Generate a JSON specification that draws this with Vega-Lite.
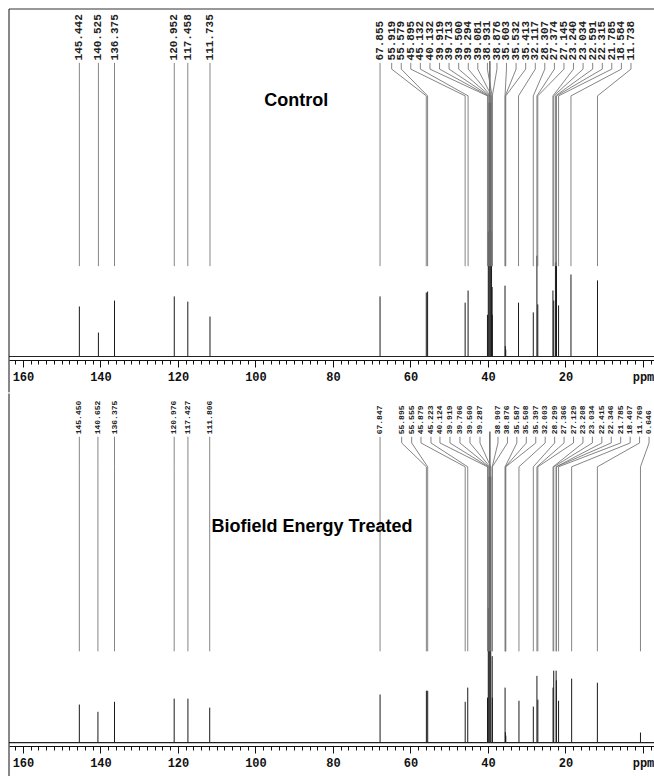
{
  "$schema": "https://vega.github.io/schema/vega-lite/v6.json",
  "background": "white",
  "padding": {"left": 8, "top": 8, "right": 0, "bottom": 0},
  "spacing": 0,
  "config": {"view": {"stroke": null}, "axisY": {"disable": true}},
  "datasets": {
    "top": [
      {"ppm": 145.442, "h": 14.4, "lx": 145.442},
      {"ppm": 140.525, "h": 6.9, "lx": 140.525},
      {"ppm": 136.375, "h": 16.1, "lx": 136.375},
      {"ppm": 120.952, "h": 17.3, "lx": 120.952},
      {"ppm": 117.458, "h": 15.8, "lx": 117.458},
      {"ppm": 111.735, "h": 11.5, "lx": 111.735},
      {"ppm": 67.855, "h": 17.3, "lx": 67.855},
      {"ppm": 55.919, "h": 18.4, "lx": 64.85},
      {"ppm": 55.579, "h": 18.7, "lx": 62.38},
      {"ppm": 45.895, "h": 15.5, "lx": 59.92},
      {"ppm": 45.132, "h": 19.0, "lx": 57.45},
      {"ppm": 40.132, "h": 12, "lx": 54.97},
      {"ppm": 39.919, "h": 36, "lx": 52.5},
      {"ppm": 39.713, "h": 73, "lx": 50.04},
      {"ppm": 39.5, "h": 85, "lx": 47.56},
      {"ppm": 39.294, "h": 73, "lx": 45.08},
      {"ppm": 39.081, "h": 36, "lx": 42.63},
      {"ppm": 38.931, "h": 20, "lx": 40.15},
      {"ppm": 38.876, "h": 12, "lx": 37.68},
      {"ppm": 35.603, "h": 20.4, "lx": 35.23},
      {"ppm": 35.532, "h": 3, "lx": 32.75},
      {"ppm": 35.413, "h": 2, "lx": 30.27},
      {"ppm": 32.117, "h": 15.5, "lx": 27.79},
      {"ppm": 28.307, "h": 12.7, "lx": 25.34},
      {"ppm": 27.374, "h": 29, "lx": 22.86},
      {"ppm": 27.145, "h": 15.0, "lx": 20.39},
      {"ppm": 23.24, "h": 19.0, "lx": 17.94},
      {"ppm": 23.034, "h": 16.1, "lx": 15.46},
      {"ppm": 22.591, "h": 27, "lx": 12.98},
      {"ppm": 22.315, "h": 27.3, "lx": 10.5},
      {"ppm": 21.785, "h": 14.7, "lx": 8.05},
      {"ppm": 18.584, "h": 23.6, "lx": 5.57},
      {"ppm": 11.738, "h": 21.9, "lx": 3.1}
    ],
    "bottom": [
      {"ppm": 145.45, "h": 11.0, "lx": 145.45},
      {"ppm": 140.652, "h": 8.9, "lx": 140.652},
      {"ppm": 136.375, "h": 11.8, "lx": 136.375},
      {"ppm": 120.976, "h": 12.7, "lx": 120.976},
      {"ppm": 117.427, "h": 12.7, "lx": 117.427},
      {"ppm": 111.806, "h": 10.1, "lx": 111.806},
      {"ppm": 67.847, "h": 13.9, "lx": 67.847},
      {"ppm": 55.895, "h": 15.0, "lx": 62.27},
      {"ppm": 55.555, "h": 15.0, "lx": 59.69},
      {"ppm": 45.879, "h": 11.8, "lx": 57.29},
      {"ppm": 45.223, "h": 15.9, "lx": 54.71},
      {"ppm": 40.124, "h": 13, "lx": 52.39},
      {"ppm": 39.919, "h": 39, "lx": 49.81},
      {"ppm": 39.706, "h": 77, "lx": 47.23},
      {"ppm": 39.5, "h": 90, "lx": 44.65},
      {"ppm": 39.287, "h": 77, "lx": 42.06},
      {"ppm": 38.907, "h": 25, "lx": 37.42},
      {"ppm": 38.876, "h": 13, "lx": 34.98},
      {"ppm": 35.587, "h": 15.9, "lx": 32.55},
      {"ppm": 35.508, "h": 3, "lx": 30.11},
      {"ppm": 35.397, "h": 2, "lx": 27.67},
      {"ppm": 32.003, "h": 12.1, "lx": 25.24},
      {"ppm": 28.299, "h": 10.4, "lx": 22.8},
      {"ppm": 27.366, "h": 19.3, "lx": 20.37},
      {"ppm": 27.129, "h": 12.4, "lx": 17.93},
      {"ppm": 23.208, "h": 15.9, "lx": 15.49},
      {"ppm": 23.034, "h": 20.8, "lx": 13.06},
      {"ppm": 22.415, "h": 20.8, "lx": 10.62},
      {"ppm": 22.346, "h": 18, "lx": 8.19},
      {"ppm": 21.785, "h": 12.1, "lx": 5.75},
      {"ppm": 18.407, "h": 18.5, "lx": 3.31},
      {"ppm": 11.769, "h": 17.3, "lx": 0.88},
      {"ppm": 0.646, "h": 2.9, "lx": -1.56}
    ]
  },
  "vconcat": [
    {
      "width": 646,
      "height": 351,
      "data": {"name": "top"},
      "resolve": {"axis": {"x": "independent"}},
      "layer": [
        {
          "mark": {"type": "rule", "color": "#1a1a1a", "strokeWidth": 1},
          "encoding": {
            "x": {"field": "ppm", "type": "quantitative",
              "scale": {"domain": [-3.1, 163.6], "reverse": true, "nice": false, "zero": false},
              "axis": {"title": null, "orient": "bottom",
                "values": [-2,0,2,4,6,8,10,12,14,16,18,20,22,24,26,28,30,32,34,36,38,40,42,44,46,48,50,52,54,56,58,60,62,64,66,68,70,72,74,76,78,80,82,84,86,88,90,92,94,96,98,100,102,104,106,108,110,112,114,116,118,120,122,124,126,128,130,132,134,136,138,140,142,144,146,148,150,152,154,156,158,160,162],
                "tickSize": 4, "labels": false, "domain": true, "grid": false,
                "domainColor": "#111", "tickColor": "#111"}},
            "y": {"field": "h", "type": "quantitative", "scale": {"domain": [-1, 100], "nice": false, "zero": false}},
            "y2": {"datum": 0}
          }
        },
        {
          "data": {"values": [{}]},
          "mark": {"type": "rule", "color": "#222", "strokeWidth": 1.2},
          "encoding": {"y": {"datum": 0, "type": "quantitative"}}
        },
        {
          "data": {"values": [{}]},
          "mark": {"type": "rule", "color": "#333", "strokeWidth": 1.2},
          "encoding": {"y": {"datum": 100, "type": "quantitative"}}
        },
        {
          "data": {"values": [{}]},
          "mark": {"type": "rule", "color": "#111", "strokeWidth": 1},
          "encoding": {
            "x": {"datum": 163.6, "type": "quantitative", "axis": null},
            "y": {"datum": -10.3, "type": "quantitative"},
            "y2": {"datum": 100}
          }
        },
        {
          "mark": {"type": "rule", "color": "#777", "strokeWidth": 0.9},
          "encoding": {
            "x": {"field": "lx", "type": "quantitative", "axis": null},
            "y": {"datum": 84.5, "type": "quantitative"},
            "y2": {"datum": 82.7}
          }
        },
        {
          "mark": {"type": "rule", "color": "#777", "strokeWidth": 0.9},
          "encoding": {
            "x": {"field": "lx", "type": "quantitative", "axis": null},
            "x2": {"field": "ppm"},
            "y": {"datum": 82.7, "type": "quantitative"},
            "y2": {"datum": 75}
          }
        },
        {
          "mark": {"type": "rule", "color": "#777", "strokeWidth": 0.9},
          "encoding": {
            "x": {"field": "ppm", "type": "quantitative",
              "axis": {"title": null, "orient": "bottom",
                "values": [0,20,40,60,80,100,120,140,160],
                "labelExpr": "datum.value === 0 ? 'ppm' : datum.label",
                "tickSize": 7, "domain": false, "grid": false,
                "labelFont": "Liberation Mono", "labelFontSize": 12, "labelFontWeight": "bold", "labelColor": "#111",
                "tickColor": "#111", "labelPadding": 4,
                "labelOverlap": false, "labelFlush": false, "labelBound": false}},
            "y": {"datum": 75, "type": "quantitative"},
            "y2": {"datum": 26}
          }
        },
        {
          "mark": {"type": "text", "angle": 270, "align": "left", "baseline": "middle", "font": "Liberation Mono", "fontSize": 11, "fontWeight": "bold", "color": "#222"},
          "encoding": {
            "x": {"field": "lx", "type": "quantitative", "axis": null},
            "y": {"datum": 85.2, "type": "quantitative"},
            "text": {"field": "ppm", "type": "quantitative", "format": ".3f"}
          }
        },
        {
          "data": {"values": [{"t": "Control"}]},
          "mark": {"type": "text", "font": "Liberation Sans", "fontSize": 18, "fontWeight": "bold", "color": "#000", "align": "center", "baseline": "middle"},
          "encoding": {
            "x": {"datum": 89.5, "type": "quantitative", "axis": null},
            "y": {"datum": 73.5, "type": "quantitative"},
            "text": {"field": "t", "type": "nominal"}
          }
        }
      ]
    },
    {
      "width": 646,
      "height": 349,
      "data": {"name": "bottom"},
      "resolve": {"axis": {"x": "independent"}},
      "layer": [
        {
          "mark": {"type": "rule", "color": "#1a1a1a", "strokeWidth": 1},
          "encoding": {
            "x": {"field": "ppm", "type": "quantitative",
              "scale": {"domain": [-3.1, 163.6], "reverse": true, "nice": false, "zero": false},
              "axis": {"title": null, "orient": "bottom",
                "values": [-2,0,2,4,6,8,10,12,14,16,18,20,22,24,26,28,30,32,34,36,38,40,42,44,46,48,50,52,54,56,58,60,62,64,66,68,70,72,74,76,78,80,82,84,86,88,90,92,94,96,98,100,102,104,106,108,110,112,114,116,118,120,122,124,126,128,130,132,134,136,138,140,142,144,146,148,150,152,154,156,158,160,162],
                "tickSize": 4, "labels": false, "domain": true, "grid": false,
                "domainColor": "#111", "tickColor": "#111"}},
            "y": {"field": "h", "type": "quantitative", "scale": {"domain": [-1, 100], "nice": false, "zero": false}},
            "y2": {"datum": 0}
          }
        },
        {
          "data": {"values": [{}]},
          "mark": {"type": "rule", "color": "#222", "strokeWidth": 1.2},
          "encoding": {"y": {"datum": 0, "type": "quantitative"}}
        },
        {
          "data": {"values": [{}]},
          "mark": {"type": "rule", "color": "#111", "strokeWidth": 1},
          "encoding": {
            "x": {"datum": 163.6, "type": "quantitative", "axis": null},
            "y": {"datum": -10.5, "type": "quantitative"},
            "y2": {"datum": 101}
          }
        },
        {
          "mark": {"type": "rule", "color": "#777", "strokeWidth": 0.9},
          "encoding": {
            "x": {"field": "lx", "type": "quantitative", "axis": null},
            "y": {"datum": 88.5, "type": "quantitative"},
            "y2": {"datum": 86.7}
          }
        },
        {
          "mark": {"type": "rule", "color": "#777", "strokeWidth": 0.9},
          "encoding": {
            "x": {"field": "lx", "type": "quantitative", "axis": null},
            "x2": {"field": "ppm"},
            "y": {"datum": 86.7, "type": "quantitative"},
            "y2": {"datum": 79.8}
          }
        },
        {
          "mark": {"type": "rule", "color": "#777", "strokeWidth": 0.9},
          "encoding": {
            "x": {"field": "ppm", "type": "quantitative",
              "axis": {"title": null, "orient": "bottom",
                "values": [0,20,40,60,80,100,120,140,160],
                "labelExpr": "datum.value === 0 ? 'ppm' : datum.label",
                "tickSize": 7, "domain": false, "grid": false,
                "labelFont": "Liberation Mono", "labelFontSize": 12, "labelFontWeight": "bold", "labelColor": "#111",
                "tickColor": "#111", "labelPadding": 4,
                "labelOverlap": false, "labelFlush": false, "labelBound": false}},
            "y": {"datum": 79.8, "type": "quantitative"},
            "y2": {"datum": 26.4}
          }
        },
        {
          "mark": {"type": "text", "angle": 270, "align": "left", "baseline": "middle", "font": "Liberation Mono", "fontSize": 8, "fontWeight": "bold", "color": "#222"},
          "encoding": {
            "x": {"field": "lx", "type": "quantitative", "axis": null},
            "y": {"datum": 89.2, "type": "quantitative"},
            "text": {"field": "ppm", "type": "quantitative", "format": ".3f"}
          }
        },
        {
          "data": {"values": [{"t": "Biofield Energy Treated"}]},
          "mark": {"type": "text", "font": "Liberation Sans", "fontSize": 18, "fontWeight": "bold", "color": "#000", "align": "center", "baseline": "middle"},
          "encoding": {
            "x": {"datum": 85.4, "type": "quantitative", "axis": null},
            "y": {"datum": 62.5, "type": "quantitative"},
            "text": {"field": "t", "type": "nominal"}
          }
        }
      ]
    }
  ]
}
